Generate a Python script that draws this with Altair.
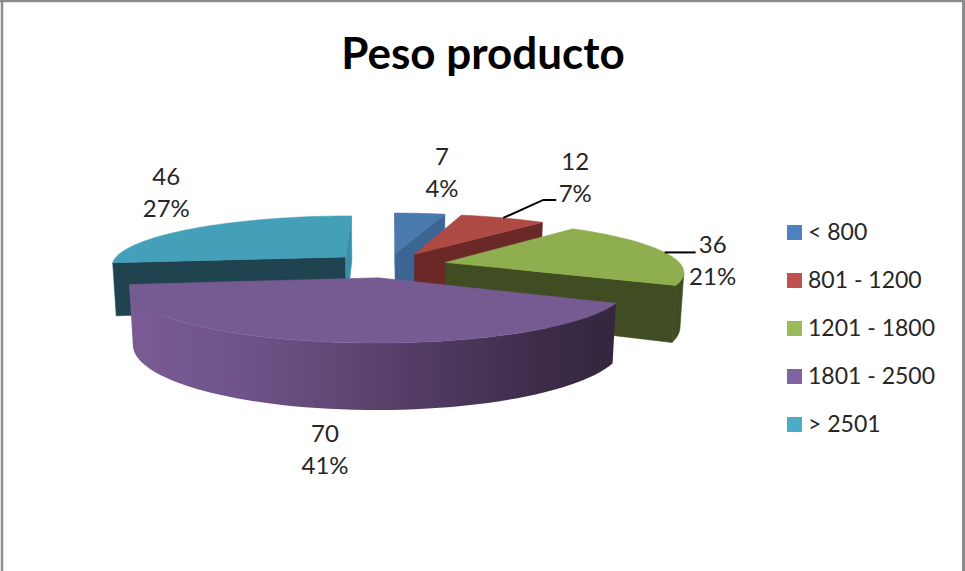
import math
import altair as alt
import pandas as pd

# Weight bands and counts
categories = ["< 800", "801 - 1200", "1201 - 1800", "1801 - 2500", "> 2501"]
counts = [7, 12, 36, 70, 46]

# Colours: legend swatch, lit top face, side walls
legend_colors = ["#4f81bd", "#c0504d", "#9bbb59", "#8064a2", "#4bacc6"]
top_colors = ["#4a79ae", "#ae4a44", "#8fae50", "#765b92", "#44a0b8"]
start_wall_colors = ["#3c6594", "#6a2827", "#404c22", "#35283f", "#1f4450"]
end_wall_colors = ["#3c6594", "#6a2827", "#404c22", "#35283f", "#3a90a8"]
rim_wall_colors = ["#3c6594", "#6a2827", "#404c22", None, "#1f4450"]
purple_wall_stops = [("#7a5b94", 0.0), ("#6e5288", 0.25), ("#563f68", 0.55),
                     ("#3c2c49", 0.85), ("#34263e", 1.0)]

# Back-to-front drawing order of the slices
paint_order = [4, 0, 1, 2, 3]

# Camera used to project the exploded pie
CX, CY = 388.5, 265.0
FOCAL_X, FOCAL_Y, THICKNESS = 1460.0, 310.0, 332.0
DIST, LOW_DIST, EXPLODE = 6.2, 0.08, 0.25
W, H = 965, 571

# Slice label placement, relative to each slice's rim midpoint
label_offsets = [(22, -55), (72, -55), (48, -6), (-3, 93), (-28, -50)]
leader_bends = [None, [(40, -18), (53, -18)], [(31, 0)], None, None]


def project(px, pz, low=False):
    depth = DIST + pz + (LOW_DIST if low else 0.0)
    sx = CX + FOCAL_X * px / depth
    sy = CY - FOCAL_Y * pz / (DIST + pz)
    if low:
        sy += THICKNESS / (DIST + pz)
    return sx, sy


def polygon(points):
    return pd.DataFrame([{"x": p[0], "y": p[1], "i": k} for k, p in enumerate(points)])


x_scale = alt.Scale(domain=[0, W], range=[0, W])
y_scale = alt.Scale(domain=[H, 0], range=[H, 0])
x_enc = alt.X("x:Q", scale=x_scale, axis=None)
y_enc = alt.Y("y:Q", scale=y_scale, axis=None)


def face(points, fill):
    mark = alt.Chart(polygon(points)).mark_line(
        fill=fill,
        stroke=fill if isinstance(fill, str) else "transparent",
        strokeWidth=0.6,
        interpolate="linear-closed",
    )
    return mark.encode(x=x_enc, y=y_enc, order=alt.Order("i:Q"))


total = sum(counts)
slice_layers = {}
anchors = []
start = 0.0
for idx, value in enumerate(counts):
    sweep = 360.0 * value / total
    end = start + sweep
    mid = math.radians(start + sweep / 2)
    ax, az = EXPLODE * math.sin(mid), EXPLODE * math.cos(mid)

    thetas = [math.radians(start + sweep * k / 60) for k in range(61)]
    rim = [(ax + math.sin(t), az + math.cos(t)) for t in thetas]
    anchors.append(project(ax + math.sin(mid), az + math.cos(mid)))
    parts = []

    # Flat cut walls, only the ones turned towards the camera
    for theta, sign, colors in ((math.radians(start), -1, start_wall_colors),
                                (math.radians(end), 1, end_wall_colors)):
        nx, nz = sign * math.cos(theta), -sign * math.sin(theta)
        if (-ax) * nx + (-DIST - az) * nz > 0:
            ox, oz = ax + math.sin(theta), az + math.cos(theta)
            parts.append(face([project(ax, az), project(ox, oz),
                               project(ox, oz, True), project(ax, az, True)],
                              colors[idx]))

    # Curved outer wall, front-facing stretch only
    front = [p for t, p in zip(thetas, rim)
             if (-p[0]) * math.sin(t) + (-DIST - p[1]) * math.cos(t) > 0]
    if len(front) > 1:
        outline = [project(*p) for p in front] + [project(*p, True) for p in reversed(front)]
        fill = rim_wall_colors[idx]
        if fill is None:
            fill = alt.LinearGradient(
                gradient="linear", x1=0, x2=1, y1=0, y2=0,
                stops=[alt.GradientStop(color=c, offset=o) for c, o in purple_wall_stops],
            )
        parts.append(face(outline, fill))

    # Top face
    parts.append(face([project(ax, az)] + [project(*p) for p in rim], top_colors[idx]))
    slice_layers[idx] = parts
    start = end

layers = [part for idx in paint_order for part in slice_layers[idx]]

# Leader lines from the rim to the label
for idx, bends in enumerate(leader_bends):
    if bends:
        ax0, ay0 = anchors[idx]
        pts = [(ax0, ay0)] + [(ax0 + dx, ay0 + dy) for dx, dy in bends]
        layers.append(
            alt.Chart(polygon(pts)).mark_line(color="#000000", strokeWidth=2)
            .encode(x=x_enc, y=y_enc, order=alt.Order("i:Q"))
        )

# Value and percentage labels
label_rows = pd.DataFrame([
    {
        "x": anchors[i][0] + label_offsets[i][0],
        "y": anchors[i][1] + label_offsets[i][1],
        "text": f"{counts[i]}\n{round(100 * counts[i] / total)}%",
    }
    for i in range(len(counts))
])
layers.append(
    alt.Chart(label_rows).mark_text(
        font="Lato", fontSize=24, color="#262626", lineBreak="\n", lineHeight=32,
        align="center", baseline="middle",
    ).encode(x=x_enc, y=y_enc, text="text:N")
)

# Title
layers.append(
    alt.Chart(pd.DataFrame({"x": [483], "y": [56], "text": ["Peso producto"]})).mark_text(
        font="Lato", fontSize=44, fontWeight="bold", color="#000000",
        align="center", baseline="middle",
    ).encode(x=x_enc, y=y_enc, text="text:N")
)

# Legend carried by invisible points
layers.append(
    alt.Chart(pd.DataFrame({"band": categories})).mark_square(size=0).encode(
        x=alt.value(0),
        y=alt.value(0),
        color=alt.Color(
            "band:N",
            scale=alt.Scale(domain=categories, range=legend_colors),
            legend=alt.Legend(
                title=None, orient="none", legendX=783, legendY=221,
                symbolType="square", symbolSize=225, symbolOpacity=1, symbolStrokeWidth=0,
                labelFont="Lato", labelFontSize=23, labelColor="#262626",
                labelOffset=2, rowPadding=24, padding=0,
            ),
        ),
    )
)

# Frame around the chart: top, left and right edges
frame = "#8c8c8c"
layers.append(alt.Chart(pd.DataFrame({"a": [0]})).mark_rule(color=frame, strokeWidth=2.5)
              .encode(x=alt.value(0), x2=alt.value(W), y=alt.value(1)))
layers.append(alt.Chart(pd.DataFrame({"a": [0]})).mark_rule(color=frame, strokeWidth=2.5)
              .encode(x=alt.value(2), y=alt.value(0), y2=alt.value(H)))
layers.append(alt.Chart(pd.DataFrame({"a": [0]})).mark_rule(color=frame, strokeWidth=3)
              .encode(x=alt.value(963.5), y=alt.value(0), y2=alt.value(H)))

chart = alt.layer(*layers).properties(
    width=W, height=H, padding=0, background="#ffffff",
    autosize=alt.AutoSizeParams(type="none"),
).configure_view(stroke=None)

chart.save("out.html", embed_options={"renderer": "svg", "actions": False})
